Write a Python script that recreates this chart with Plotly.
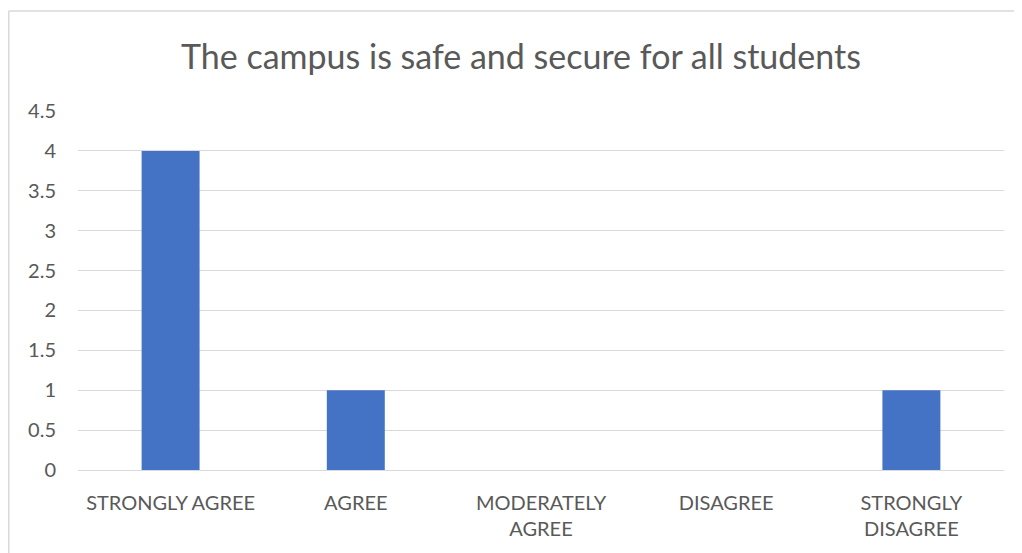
import plotly.graph_objects as go

categories = ["STRONGLY AGREE", "AGREE", "MODERATELY<br>AGREE", "DISAGREE", "STRONGLY<br>DISAGREE"]
responses = [4, 1, 0, 0, 1]
y_ticks = [0, 0.5, 1, 1.5, 2, 2.5, 3, 3.5, 4, 4.5]
y_tick_labels = ["0", "0.5", "1", "1.5", "2", "2.5", "3", "3.5", "4", "4.5"]

# the page body adds an 8px margin, so the figure is a bit smaller than the window
W, H = 1014, 545
L, R, T, B = 70, 18, 103, 83
pw, ph = W - L - R, H - T - B

fig = go.Figure(go.Bar(
    x=categories,
    y=responses,
    marker=dict(color="#4472C4", line=dict(width=0)),
))

fig.update_layout(
    width=W, height=H,
    margin=dict(l=L, r=R, t=T, b=B),
    paper_bgcolor="white",
    plot_bgcolor="white",
    bargap=0.687,
    showlegend=False,
    font=dict(family="Lato", color="#595959", size=20),
    title=dict(
        text="The campus is safe and secure for all students",
        font=dict(size=34, color="#595959"),
        x=513 / W, xanchor="center",
        y=1 - 49 / H, yanchor="middle",
    ),
    xaxis=dict(
        showgrid=False, showline=True, linecolor="#d9d9d9", linewidth=1,
        ticks="", tickfont=dict(size=20), ticklabelstandoff=15,
    ),
    yaxis=dict(
        range=[0, 4.5], tickvals=y_ticks, ticktext=y_tick_labels,
        showgrid=True, gridcolor="#d9d9d9", gridwidth=1,
        zeroline=False, showline=False, ticks="",
        tickfont=dict(size=20), ticklabelstandoff=21,
    ),
    shapes=[
        # chart border (left and top edges visible)
        dict(type="line", xref="paper", yref="paper",
             x0=(0.75 - L) / pw, x1=(0.75 - L) / pw,
             y0=(H - 3 - B) / ph, y1=(-B - 10) / ph,
             line=dict(color="#d9d9d9", width=1.5)),
        dict(type="line", xref="paper", yref="paper",
             x0=(0.75 - L) / pw, x1=(W + 10 - L) / pw,
             y0=(H - 3 - B) / ph, y1=(H - 3 - B) / ph,
             line=dict(color="#d9d9d9", width=1.5)),
    ],
)

fig.write_html("out.html")
